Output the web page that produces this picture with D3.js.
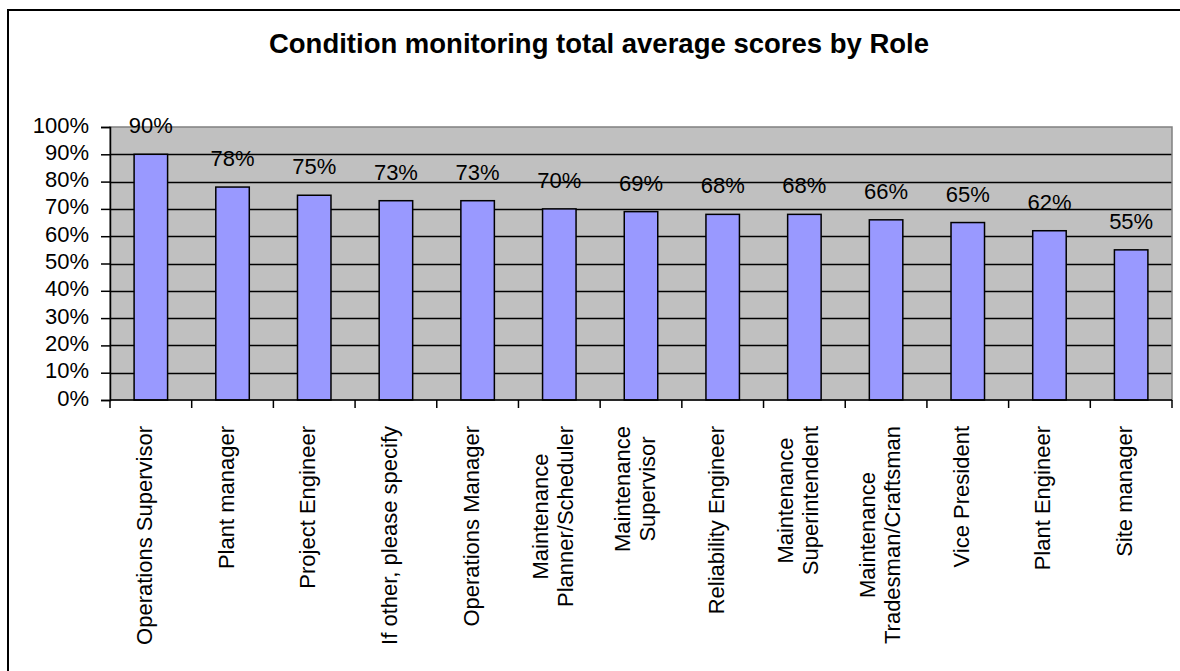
<!DOCTYPE html>
<head>
<meta charset="utf-8">
<style>
body {
    margin: 0;
    background: #fff;
}
text {
    font-family: "Liberation Sans", Arial, sans-serif;
    fill: #000;
}
.title {
    font-weight: bold;
    font-size: 27.5px;
}
.tick text, .value, .cat {
    font-size: 22px;
}
</style>
</head>
<body>
<div class="viz"></div>

<script src="https://d3js.org/d3.v7.min.js"></script>
<script>
const categories = [
    "Operations Supervisor",
    "Plant manager",
    "Project Engineer",
    "If other, please specify",
    "Operations Manager",
    "Maintenance\nPlanner/Scheduler",
    "Maintenance\nSupervisor",
    "Reliability Engineer",
    "Maintenance\nSuperintendent",
    "Maintenance\nTradesman/Craftsman",
    "Vice President",
    "Plant Engineer",
    "Site manager"
];
const scores = [0.90, 0.78, 0.75, 0.73, 0.73, 0.70, 0.69, 0.68, 0.68, 0.66, 0.65, 0.62, 0.55];
const yTicks = [0, 0.1, 0.2, 0.3, 0.4, 0.5, 0.6, 0.7, 0.8, 0.9, 1.0];
const title = "Condition monitoring total average scores by Role";

const W = 1180, H = 671;
const plot = { left: 110, right: 1172, top: 127, bottom: 400 };

const svg = d3.select(".viz")
              .append("svg")
                  .attr("width", W)
                  .attr("height", H);

// outer chart frame (runs off the right and bottom edges)
svg.append("rect")
   .attr("x", 8).attr("y", 10)
   .attr("width", W + 20).attr("height", H + 20)
   .attr("fill", "#fff")
   .attr("stroke", "#000")
   .attr("stroke-width", 2);

svg.append("text")
   .attr("class", "title")
   .attr("x", 599)
   .attr("y", 53)
   .attr("text-anchor", "middle")
   .text(title);

const x = d3.scaleBand()
            .domain(categories)
            .range([plot.left, plot.right])
            .paddingInner(0.59)
            .paddingOuter(0.295);
const y = d3.scaleLinear()
            .domain([0, 1])
            .range([plot.bottom, plot.top]);

// plot background
svg.append("rect")
   .attr("x", plot.left).attr("y", plot.top)
   .attr("width", plot.right - plot.left)
   .attr("height", plot.bottom - plot.top)
   .attr("fill", "#C0C0C0");

// gridlines
svg.append("g")
   .selectAll("line")
   .data(yTicks.filter(d => d > 0 && d < 1))
   .enter()
   .append("line")
       .attr("x1", plot.left).attr("x2", plot.right)
       .attr("y1", d => Math.round(y(d)) + 0.5)
       .attr("y2", d => Math.round(y(d)) + 0.5)
       .attr("stroke", "#000")
       .attr("stroke-width", 1.5);

// plot border
svg.append("rect")
   .attr("x", plot.left).attr("y", plot.top)
   .attr("width", plot.right - plot.left)
   .attr("height", plot.bottom - plot.top)
   .attr("fill", "none")
   .attr("stroke", "#808080")
   .attr("stroke-width", 1.5);

// bars
svg.append("g")
   .selectAll("rect")
   .data(scores)
   .enter()
   .append("rect")
       .attr("x", (d, i) => x(categories[i]))
       .attr("y", d => y(d))
       .attr("width", x.bandwidth())
       .attr("height", d => y(0) - y(d))
       .attr("fill", "#9999FF")
       .attr("stroke", "#000")
       .attr("stroke-width", 1.5);

// value labels
svg.append("g")
   .selectAll("text")
   .data(scores)
   .enter()
   .append("text")
       .attr("class", "value")
       .attr("x", (d, i) => x(categories[i]) + x.bandwidth() / 2)
       .attr("y", d => y(d) - 21)
       .attr("text-anchor", "middle")
       .text(d => Math.round(d * 100) + "%");

// y axis
const yAxis = d3.axisLeft(y)
                .tickValues(yTicks)
                .tickSize(9)
                .tickPadding(12)
                .tickFormat(d3.format(".0%"));
const yg = svg.append("g")
              .attr("transform", "translate(" + plot.left + ",0)")
              .call(yAxis);
yg.select(".domain").attr("stroke", "#000").attr("stroke-width", 1.5);
yg.selectAll(".tick line").attr("stroke", "#000").attr("stroke-width", 1.5);
yg.selectAll(".tick text").attr("dy", "0.23em").attr("font-size", null).attr("font-family", null);
yg.attr("font-size", null).attr("font-family", null);

// x axis line + ticks at category boundaries
const step = x.step();
const bounds = categories.map(c => x(c) - x.paddingOuter() * step).concat([plot.right]);
svg.append("line")
   .attr("x1", plot.left).attr("x2", plot.right)
   .attr("y1", plot.bottom).attr("y2", plot.bottom)
   .attr("stroke", "#000").attr("stroke-width", 1.5);
svg.append("g")
   .selectAll("line")
   .data(bounds)
   .enter()
   .append("line")
       .attr("x1", d => d).attr("x2", d => d)
       .attr("y1", plot.bottom).attr("y2", plot.bottom + 8)
       .attr("stroke", "#000")
       .attr("stroke-width", 1.5);

// rotated category labels, top-aligned below the axis
const lineH = 25;
categories.forEach(function(c) {
    const cx = x(c) + x.bandwidth() / 2;
    const lines = c.split("\n");
    const g = svg.append("g")
                 .attr("transform", "translate(" + cx + ",426) rotate(-90)");
    const t = g.selectAll("text")
               .data(lines)
               .enter()
               .append("text")
                   .attr("class", "cat")
                   .attr("text-anchor", "middle")
                   .attr("y", (d, i) => 1 + (i - (lines.length - 1) / 2) * lineH)
                   .text(d => d);
    let maxLen = 0;
    t.each(function() { maxLen = Math.max(maxLen, this.getComputedTextLength()); });
    t.attr("x", -maxLen / 2);
});
</script>
</body>
